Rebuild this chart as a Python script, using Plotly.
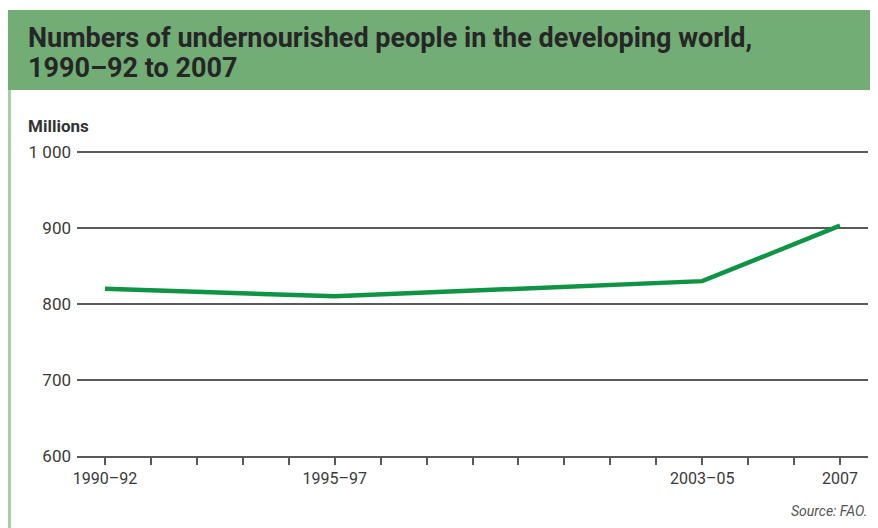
import plotly.graph_objects as go

# Data
periods = ["1990–92", "1995–97", "2003–05", "2007"]
period_x = [1991, 1996, 2004, 2007]
values = [820, 810, 830, 903]
tick_years = list(range(1991, 2008))
y_ticks = [600, 700, 800, 900, 1000]
y_labels = ["600", "700", "800", "900", "1 000"]

# The page body has an 8px margin, so the figure sits at (8, 8) on the page.
OFF = 8
W, H = 878 - OFF, 528 - OFF
L, R, T, B = 77 - OFF, 10, 150 - OFF, 72
pw, ph = W - L - R, H - T - B

def px(x_page):
    return (x_page - OFF - L) / pw

def py(y_page):
    return (H - B - (y_page - OFF)) / ph

fig = go.Figure()
fig.add_trace(go.Scatter(
    x=period_x, y=values, mode="lines",
    line=dict(color="#0e9444", width=4.5),
    hoverinfo="skip", showlegend=False,
))

ticktext = []
for yr in tick_years:
    if yr in period_x:
        ticktext.append(periods[period_x.index(yr)])
    else:
        ticktext.append("")

x_per = (840 - 105) / 16.0
x0 = 1991 - (105 - 77) / x_per
x1 = 2007 + (868 - 840) / x_per

fig.update_layout(
    width=W, height=H,
    margin=dict(l=L, r=R, t=T, b=B),
    paper_bgcolor="white", plot_bgcolor="white",
    font=dict(family="Roboto, 'Open Sans', sans-serif", color="#333333"),
    xaxis=dict(
        range=[x0, x1], tickvals=tick_years, ticktext=ticktext,
        showgrid=False, zeroline=False,
        showline=True, linecolor="#5a5a5a", linewidth=2,
        ticks="outside", ticklen=7, tickwidth=2, tickcolor="#5a5a5a",
        tickfont=dict(size=16, color="#3a3a3a"),
        fixedrange=True,
    ),
    yaxis=dict(
        range=[600, 1002.5], tickvals=y_ticks, ticktext=y_labels,
        showgrid=True, gridcolor="#5a5a5a", gridwidth=2,
        zeroline=False, showline=False, ticks="",
        tickfont=dict(size=17, color="#3a3a3a"),
        ticklabelstandoff=5,
        fixedrange=True,
    ),
    shapes=[
        dict(type="rect", xref="paper", yref="paper",
             x0=px(5), x1=px(890), y0=py(90), y1=py(10),
             fillcolor="#72ad76", line=dict(width=0), layer="below"),
        dict(type="line", xref="paper", yref="paper",
             x0=px(9.5), x1=px(9.5), y0=py(90), y1=py(540),
             line=dict(color="#a5cfa6", width=3)),
    ],
    annotations=[
        dict(text="<b>Numbers of undernourished people in the developing world,</b>",
             xref="paper", yref="paper", x=px(26), y=py(38),
             xanchor="left", yanchor="middle", showarrow=False,
             font=dict(size=27, color="#262626")),
        dict(text="<b>1990–92 to 2007</b>",
             xref="paper", yref="paper", x=px(26), y=py(68),
             xanchor="left", yanchor="middle", showarrow=False,
             font=dict(size=27, color="#262626")),
        dict(text="<b>Millions</b>",
             xref="paper", yref="paper", x=px(26), y=py(126),
             xanchor="left", yanchor="middle", showarrow=False,
             font=dict(size=17, color="#333333")),
        dict(text="<i>Source: FAO.</i> ",
             xref="paper", yref="paper", x=px(873), y=py(511),
             xanchor="right", yanchor="middle", showarrow=False,
             font=dict(size=14, color="#555555")),
    ],
)

fig.write_html("out.html")
